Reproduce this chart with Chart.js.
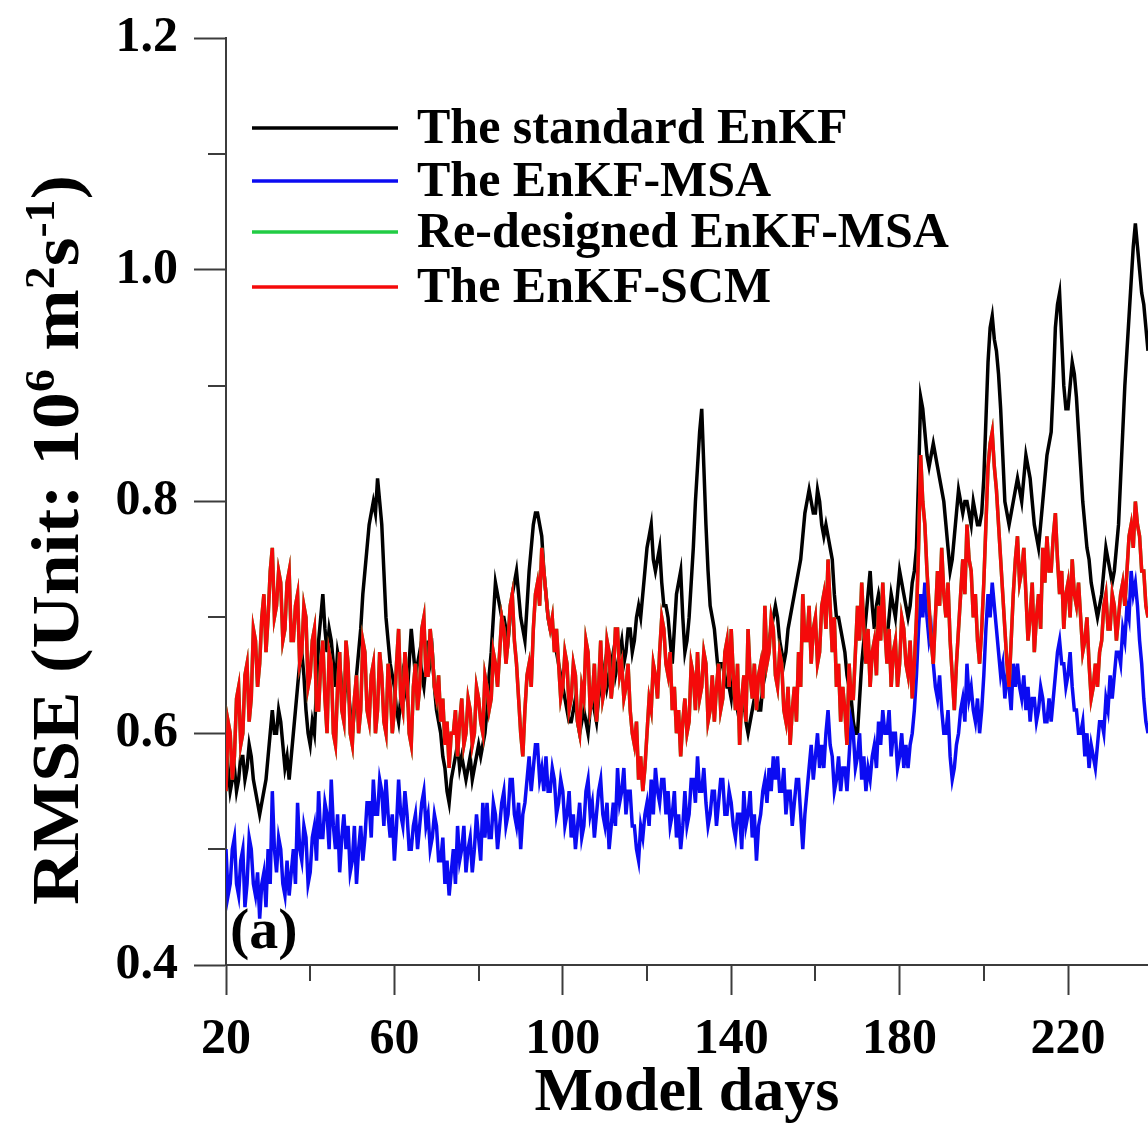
<!DOCTYPE html>
<html>
<head>
<meta charset="utf-8">
<script src="https://cdn.jsdelivr.net/npm/chart.js@4.4.1/dist/chart.umd.min.js"></script>
<style>
html,body{margin:0;padding:0;background:#fff;overflow:hidden}
#wrap{width:1148px;height:1136px;position:relative}
canvas{display:block}
</style>
</head>
<body>
<div id="wrap"><canvas id="c" width="1148" height="1136"></canvas></div>
<script>
const startDay = 20;
const endDay = 239;
const dayStep = 0.5;
const seriesNames = ['The standard EnKF', 'The EnKF-MSA', 'Re-designed EnKF-MSA', 'The EnKF-SCM'];
const seriesColors = ['#000000', '#0b0bf2', '#22cc44', '#f50a0a'];
const xMajorTicks = [20, 60, 100, 140, 180, 220];
const xMinorTicks = [40, 80, 120, 160, 200, 240];
const yMajorTicks = [0.4, 0.6, 0.8, 1.0, 1.2];
const yMinorTicks = [0.5, 0.7, 0.9, 1.1];
const xTitle = 'Model days';
const yTitleParts = [['RMSE (Unit: 10', false], ['6', true], [' m', false], ['2', true], ['s', false], ['-1', true], [')', false]];
const panelLabel = '(a)';

// The standard EnKF (days 20, 20.5, ... 239)
const standardEnKF = [
0.56,0.57,0.55,0.56,0.57,0.55,0.56,0.58,0.58,0.56,0.57,0.59,0.58,0.56,0.55,0.54,0.53,0.54,0.55,0.56,
0.58,0.60,0.62,0.60,0.60,0.62,0.61,0.59,0.57,0.58,0.56,0.58,0.60,0.62,0.64,0.66,0.67,0.65,0.62,0.60,
0.59,0.61,0.60,0.64,0.68,0.70,0.72,0.69,0.67,0.69,0.68,0.66,0.64,0.67,0.66,0.64,0.62,0.65,0.64,0.62,
0.60,0.62,0.65,0.67,0.69,0.72,0.74,0.76,0.78,0.79,0.80,0.79,0.82,0.80,0.78,0.74,0.70,0.68,0.66,0.65,
0.64,0.62,0.61,0.63,0.65,0.64,0.63,0.66,0.69,0.67,0.65,0.66,0.67,0.65,0.64,0.66,0.68,0.66,0.67,0.64,
0.62,0.61,0.60,0.58,0.57,0.55,0.54,0.56,0.57,0.58,0.59,0.57,0.58,0.57,0.56,0.57,0.58,0.56,0.57,0.58,
0.59,0.58,0.59,0.60,0.62,0.65,0.67,0.70,0.73,0.72,0.71,0.70,0.70,0.69,0.68,0.70,0.72,0.73,0.74,0.72,
0.70,0.69,0.68,0.71,0.74,0.76,0.78,0.79,0.79,0.78,0.77,0.74,0.72,0.70,0.69,0.69,0.68,0.67,0.66,0.65,
0.64,0.63,0.62,0.61,0.61,0.62,0.63,0.61,0.60,0.61,0.62,0.61,0.60,0.62,0.63,0.62,0.61,0.63,0.64,0.65,
0.66,0.64,0.65,0.66,0.67,0.65,0.66,0.67,0.68,0.66,0.67,0.69,0.69,0.67,0.68,0.70,0.71,0.70,0.72,0.74,
0.76,0.77,0.78,0.75,0.74,0.75,0.76,0.73,0.71,0.71,0.70,0.68,0.66,0.69,0.72,0.73,0.74,0.70,0.67,0.68,
0.70,0.73,0.76,0.80,0.83,0.86,0.88,0.83,0.78,0.74,0.71,0.70,0.69,0.67,0.65,0.66,0.66,0.65,0.64,0.64,
0.63,0.65,0.64,0.62,0.61,0.62,0.63,0.61,0.60,0.61,0.62,0.63,0.64,0.62,0.62,0.64,0.65,0.67,0.68,0.69,
0.70,0.71,0.70,0.68,0.67,0.66,0.67,0.69,0.70,0.71,0.72,0.73,0.74,0.75,0.77,0.79,0.80,0.81,0.80,0.79,
0.79,0.81,0.80,0.78,0.77,0.78,0.77,0.76,0.75,0.72,0.70,0.70,0.69,0.68,0.67,0.65,0.64,0.63,0.61,0.60,
0.60,0.63,0.66,0.68,0.70,0.72,0.74,0.71,0.69,0.71,0.72,0.71,0.70,0.69,0.68,0.70,0.72,0.71,0.70,0.72,
0.74,0.73,0.72,0.71,0.70,0.71,0.73,0.74,0.76,0.82,0.89,0.88,0.86,0.84,0.83,0.84,0.85,0.84,0.83,0.82,
0.81,0.80,0.78,0.76,0.74,0.75,0.77,0.79,0.81,0.80,0.79,0.80,0.80,0.79,0.78,0.80,0.79,0.78,0.78,0.79,
0.82,0.87,0.92,0.95,0.96,0.94,0.93,0.91,0.88,0.84,0.80,0.79,0.78,0.79,0.80,0.81,0.82,0.81,0.80,0.82,
0.84,0.83,0.82,0.80,0.78,0.77,0.76,0.78,0.80,0.82,0.84,0.85,0.86,0.90,0.95,0.97,0.98,0.94,0.90,0.88,
0.88,0.90,0.92,0.91,0.89,0.86,0.83,0.80,0.78,0.76,0.75,0.73,0.72,0.71,0.70,0.71,0.72,0.74,0.76,0.75,
0.74,0.73,0.74,0.76,0.78,0.82,0.86,0.90,0.93,0.96,0.99,1.02,1.04,1.02,1.00,0.98,0.97,0.95,0.93
];

// The EnKF-MSA
const enkfMSA = [
0.50,0.46,0.47,0.50,0.51,0.47,0.46,0.49,0.50,0.45,0.47,0.51,0.50,0.47,0.46,0.48,0.44,0.47,0.48,0.45,
0.50,0.47,0.55,0.50,0.48,0.51,0.50,0.47,0.46,0.49,0.46,0.48,0.50,0.47,0.54,0.50,0.49,0.52,0.51,0.47,
0.48,0.51,0.52,0.49,0.55,0.51,0.51,0.54,0.53,0.50,0.56,0.52,0.50,0.53,0.48,0.51,0.53,0.50,0.52,0.48,
0.49,0.52,0.47,0.50,0.52,0.49,0.51,0.54,0.54,0.51,0.56,0.53,0.53,0.56,0.55,0.52,0.56,0.53,0.51,0.53,
0.49,0.52,0.56,0.53,0.52,0.55,0.53,0.50,0.50,0.52,0.53,0.50,0.52,0.54,0.55,0.52,0.53,0.50,0.51,0.53,
0.52,0.49,0.49,0.51,0.47,0.49,0.46,0.48,0.50,0.47,0.52,0.49,0.50,0.52,0.48,0.50,0.51,0.48,0.50,0.53,
0.51,0.49,0.54,0.51,0.54,0.51,0.51,0.54,0.53,0.50,0.52,0.54,0.55,0.52,0.53,0.56,0.56,0.53,0.52,0.54,
0.50,0.53,0.54,0.56,0.58,0.55,0.57,0.59,0.59,0.56,0.57,0.55,0.58,0.55,0.55,0.57,0.56,0.53,0.54,0.56,
0.55,0.52,0.53,0.55,0.51,0.53,0.50,0.52,0.54,0.51,0.52,0.55,0.56,0.53,0.54,0.51,0.53,0.55,0.56,0.53,
0.52,0.54,0.50,0.52,0.54,0.52,0.57,0.54,0.55,0.57,0.53,0.55,0.55,0.52,0.52,0.50,0.49,0.52,0.51,0.53,
0.54,0.52,0.56,0.53,0.57,0.55,0.54,0.56,0.56,0.53,0.55,0.52,0.53,0.55,0.51,0.53,0.50,0.52,0.55,0.52,
0.53,0.56,0.56,0.54,0.58,0.55,0.55,0.57,0.54,0.52,0.53,0.55,0.55,0.52,0.54,0.56,0.56,0.53,0.53,0.55,
0.54,0.52,0.51,0.53,0.53,0.50,0.55,0.52,0.53,0.55,0.51,0.53,0.49,0.52,0.53,0.55,0.56,0.54,0.57,0.55,
0.58,0.56,0.58,0.55,0.55,0.57,0.53,0.55,0.55,0.52,0.54,0.56,0.56,0.53,0.50,0.53,0.55,0.57,0.59,0.56,
0.58,0.60,0.57,0.59,0.57,0.60,0.62,0.59,0.58,0.55,0.56,0.58,0.55,0.57,0.57,0.55,0.58,0.61,0.60,0.57,
0.58,0.60,0.56,0.58,0.55,0.57,0.56,0.58,0.59,0.57,0.61,0.59,0.62,0.60,0.60,0.62,0.58,0.60,0.60,0.57,
0.58,0.60,0.57,0.59,0.57,0.59,0.60,0.62,0.65,0.69,0.72,0.70,0.73,0.70,0.68,0.69,0.66,0.64,0.63,0.65,
0.62,0.60,0.60,0.62,0.58,0.56,0.57,0.59,0.60,0.62,0.63,0.61,0.66,0.63,0.64,0.62,0.61,0.63,0.60,0.62,
0.65,0.69,0.72,0.70,0.73,0.71,0.69,0.67,0.65,0.66,0.63,0.65,0.64,0.62,0.66,0.64,0.66,0.64,0.63,0.65,
0.62,0.64,0.61,0.63,0.63,0.61,0.62,0.64,0.63,0.61,0.61,0.63,0.61,0.63,0.65,0.67,0.68,0.66,0.66,0.64,
0.65,0.67,0.64,0.62,0.62,0.60,0.60,0.61,0.58,0.60,0.57,0.59,0.58,0.57,0.59,0.61,0.61,0.60,0.63,0.62,
0.65,0.63,0.65,0.67,0.67,0.66,0.69,0.68,0.71,0.70,0.74,0.72,0.73,0.71,0.68,0.66,0.63,0.61,0.60
];

// The EnKF-SCM
const enkfSCM = [
0.55,0.61,0.60,0.56,0.58,0.63,0.64,0.59,0.60,0.65,0.66,0.61,0.63,0.69,0.68,0.64,0.66,0.70,0.72,0.67,
0.70,0.74,0.76,0.70,0.71,0.74,0.73,0.68,0.69,0.73,0.74,0.68,0.68,0.71,0.72,0.66,0.67,0.71,0.70,0.64,
0.65,0.68,0.69,0.62,0.62,0.66,0.68,0.63,0.60,0.67,0.66,0.60,0.59,0.64,0.67,0.62,0.61,0.68,0.66,0.60,
0.59,0.63,0.65,0.60,0.62,0.68,0.67,0.62,0.61,0.65,0.66,0.60,0.62,0.67,0.65,0.61,0.60,0.66,0.64,0.60,
0.62,0.66,0.69,0.63,0.62,0.67,0.65,0.60,0.59,0.64,0.66,0.62,0.64,0.69,0.70,0.65,0.65,0.69,0.67,0.64,
0.63,0.65,0.61,0.63,0.59,0.61,0.57,0.60,0.60,0.62,0.58,0.61,0.63,0.59,0.60,0.63,0.62,0.59,0.60,0.64,
0.63,0.61,0.60,0.65,0.64,0.62,0.63,0.67,0.66,0.64,0.67,0.70,0.69,0.66,0.68,0.71,0.72,0.68,0.66,0.63,
0.60,0.58,0.62,0.65,0.66,0.64,0.69,0.72,0.73,0.71,0.76,0.74,0.72,0.70,0.69,0.70,0.67,0.69,0.66,0.63,
0.64,0.67,0.66,0.62,0.63,0.66,0.65,0.61,0.60,0.64,0.63,0.68,0.67,0.62,0.63,0.66,0.61,0.64,0.68,0.63,
0.64,0.68,0.67,0.63,0.65,0.69,0.69,0.65,0.66,0.63,0.64,0.66,0.62,0.60,0.59,0.61,0.56,0.58,0.55,0.57,
0.60,0.63,0.62,0.66,0.65,0.63,0.67,0.70,0.69,0.66,0.65,0.67,0.62,0.64,0.60,0.62,0.58,0.61,0.63,0.60,
0.61,0.66,0.65,0.62,0.67,0.63,0.64,0.67,0.66,0.61,0.62,0.65,0.61,0.64,0.66,0.62,0.63,0.67,0.68,0.64,
0.69,0.65,0.62,0.66,0.59,0.63,0.65,0.61,0.69,0.65,0.63,0.66,0.62,0.65,0.66,0.63,0.71,0.66,0.67,0.70,
0.69,0.65,0.64,0.67,0.66,0.62,0.61,0.64,0.59,0.62,0.64,0.61,0.67,0.64,0.72,0.68,0.68,0.71,0.66,0.69,
0.70,0.66,0.67,0.71,0.72,0.69,0.75,0.71,0.67,0.70,0.64,0.66,0.61,0.64,0.62,0.59,0.66,0.63,0.63,0.67,
0.71,0.68,0.73,0.69,0.66,0.69,0.64,0.67,0.68,0.65,0.71,0.68,0.73,0.69,0.66,0.69,0.64,0.67,0.68,0.64,
0.66,0.70,0.69,0.66,0.65,0.68,0.63,0.66,0.70,0.76,0.84,0.80,0.78,0.74,0.71,0.68,0.66,0.70,0.74,0.71,
0.76,0.72,0.70,0.73,0.68,0.65,0.62,0.66,0.69,0.72,0.75,0.72,0.78,0.75,0.74,0.70,0.72,0.68,0.66,0.69,
0.73,0.78,0.83,0.85,0.86,0.83,0.81,0.78,0.75,0.72,0.69,0.66,0.64,0.68,0.72,0.75,0.77,0.73,0.74,0.76,
0.72,0.68,0.70,0.73,0.67,0.70,0.72,0.69,0.76,0.73,0.77,0.74,0.74,0.77,0.79,0.75,0.72,0.74,0.69,0.72,
0.73,0.70,0.75,0.72,0.71,0.73,0.70,0.67,0.68,0.70,0.66,0.63,0.64,0.66,0.64,0.67,0.68,0.71,0.72,0.69,
0.69,0.72,0.71,0.68,0.70,0.72,0.73,0.71,0.74,0.77,0.78,0.76,0.80,0.78,0.77,0.74,0.74,0.71,0.70
];

// Re-designed EnKF-MSA: fully hidden beneath the SCM curve in the figure (coincident)
const redesignedMSA = enkfSCM.slice();

// ---- build chart ----
const days = [];
for (let i = 0; i <= Math.round((endDay - startDay) / dayStep); i++) days.push(startDay + i * dayStep);
const toXY = arr => arr.map((v, i) => ({x: days[i], y: v})).filter(p => p.x !== undefined);

const SERIF = '"Liberation Serif", "Times New Roman", "DejaVu Serif", serif';
Chart.defaults.font.family = SERIF;
Chart.defaults.color = '#000';

const axisColor = '#3c3c3c';

const deco = {
  id: 'deco',
  afterDraw(chart) {
    const {ctx, chartArea, scales} = chart;
    const xs = scales.x, ys = scales.y;
    ctx.save();
    ctx.strokeStyle = axisColor;
    ctx.lineWidth = 2;
    xMinorTicks.forEach(v => {
      if (v < xs.min || v > xs.max) return;
      const px = Math.round(xs.getPixelForValue(v));
      ctx.beginPath(); ctx.moveTo(px, chartArea.bottom); ctx.lineTo(px, chartArea.bottom + 16); ctx.stroke();
    });
    yMinorTicks.forEach(v => {
      const py = Math.round(ys.getPixelForValue(v));
      ctx.beginPath(); ctx.moveTo(chartArea.left, py); ctx.lineTo(chartArea.left - 18, py); ctx.stroke();
    });
    // legend
    const rowY = [128, 181, 232, 287];
    ctx.font = 'bold 50px ' + SERIF;
    ctx.textBaseline = 'middle';
    ctx.textAlign = 'left';
    seriesNames.forEach((name, i) => {
      ctx.strokeStyle = seriesColors[i];
      ctx.lineWidth = 3.5;
      ctx.beginPath(); ctx.moveTo(252, rowY[i]); ctx.lineTo(398, rowY[i]); ctx.stroke();
      ctx.fillStyle = '#000';
      ctx.fillText(name, 417, rowY[i] + 2);
    });
    // panel label
    ctx.font = 'bold 58px ' + SERIF;
    ctx.textBaseline = 'alphabetic';
    ctx.fillText(panelLabel, chartArea.left + 4, 948);
    // y title with superscripts
    const F = 68, S = 42;
    const fMain = 'bold ' + F + 'px ' + SERIF, fSup = 'bold ' + S + 'px ' + SERIF;
    let total = 0;
    const parts = yTitleParts.map(p => {
      ctx.font = p[1] ? fSup : fMain;
      const w = ctx.measureText(p[0]).width;
      total += w;
      return {t: p[0], sup: p[1], w};
    });
    const yStart = 905, yEnd = 175;
    const sx = (yStart - yEnd) / total;
    ctx.translate(78, yStart);
    ctx.rotate(-Math.PI / 2);
    ctx.scale(sx, 1);
    let pos = 0;
    parts.forEach(p => {
      ctx.font = p.sup ? fSup : fMain;
      ctx.fillText(p.t, pos, p.sup ? -F * 0.36 : 0);
      pos += p.w;
    });
    ctx.restore();
  }
};

const order = [4, 3, 2, 1];
const seriesData = [standardEnKF, enkfMSA, redesignedMSA, enkfSCM];

new Chart(document.getElementById('c'), {
  type: 'line',
  data: {
    datasets: seriesData.map((arr, i) => ({
      label: seriesNames[i],
      data: toXY(arr),
      borderColor: seriesColors[i],
      backgroundColor: seriesColors[i],
      borderWidth: 3.5,
      pointRadius: 0,
      tension: 0,
      fill: false,
      order: order[i]
    }))
  },
  options: {
    responsive: false,
    animation: false,
    devicePixelRatio: 1,
    layout: {padding: {top: 38, left: 0, right: 0, bottom: 0}},
    plugins: {legend: {display: false}, tooltip: {enabled: false}},
    scales: {
      x: {
        type: 'linear', min: startDay, max: endDay,
        afterBuildTicks: a => { a.ticks = xMajorTicks.map(v => ({value: v})); },
        afterFit: a => { a.height = 171; a.paddingLeft = 0; a.paddingRight = 0; },
        ticks: {font: {size: 50, weight: 'bold'}, color: '#000', padding: 15, maxRotation: 0, autoSkip: false},
        grid: {drawOnChartArea: false, drawTicks: true, tickLength: 30, tickColor: axisColor, tickWidth: 2},
        border: {display: true, color: axisColor, width: 2},
        title: {display: true, text: xTitle, font: {size: 62, weight: 'bold'}, color: '#000', padding: {top: 0, bottom: 5}}
      },
      y: {
        type: 'linear', min: 0.4, max: 1.2,
        afterBuildTicks: a => { a.ticks = yMajorTicks.map(v => ({value: v})); },
        afterFit: a => { a.width = 226; a.paddingTop = 0; a.paddingBottom = 0; },
        ticks: {font: {size: 50, weight: 'bold'}, color: '#000', padding: 16, callback: v => Number(v).toFixed(1)},
        grid: {drawOnChartArea: false, drawTicks: true, tickLength: 32, tickColor: axisColor, tickWidth: 2},
        border: {display: true, color: axisColor, width: 2}
      }
    }
  },
  plugins: [deco]
});
</script>
</body>
</html>
